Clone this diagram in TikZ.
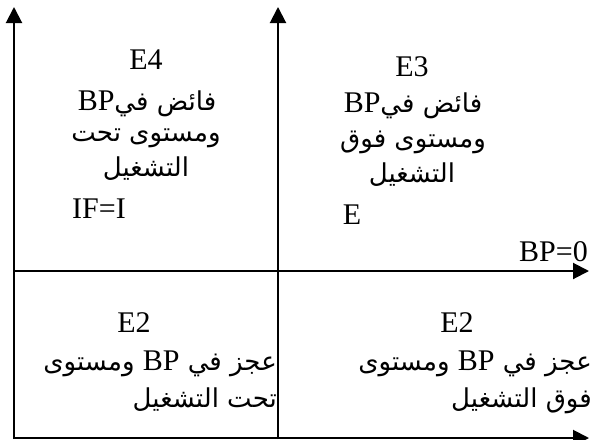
\documentclass[tikz,border=0pt]{standalone}
\usepackage{fontspec}
\setmainfont{Liberation Serif}
\newfontfamily\arabicfont[Script=Arabic]{DejaVu Sans}
\TeXXeTstate=1
\usetikzlibrary{arrows.meta}
\newcommand\latn[1]{{\fontsize{30}{36}\selectfont\rmfamily #1}}
\begin{document}
\begin{tikzpicture}[x=1pt,y=-1pt,
  axis/.style={line width=2pt,-{Triangle[length=16pt,width=16pt]}},
  lat/.style={font=\fontsize{30}{36}\selectfont, inner sep=0pt, anchor=base},
  ar/.style={font=\fontsize{26}{30}\selectfont\arabicfont, inner sep=0pt, anchor=base},
  arr/.style={ar, anchor=base east}]
\useasboundingbox (0,0) rectangle (593,439);
% axes
\coordinate (L0) at (14,439);
\coordinate (L1) at (14,7);
\coordinate (M0) at (278,439);
\coordinate (M1) at (278,7);
\coordinate (H0) at (14,271);
\coordinate (H1) at (589,271);
\coordinate (B0) at (13,438);
\coordinate (B1) at (589,438);
\draw[axis] (L0) -- (L1);
\draw[axis] (M0) -- (M1);
\draw[axis] (H0) -- (H1);
\draw[axis] (B0) -- (B1);
% top-left quadrant
\node[lat] (e4) at (146,69) {E4};
\node[ar] (q4a) at (147,110) {\beginR فائض في\beginL\latn{BP}\endL\endR};
\node[ar] (q4b) at (146,141) {\beginR ومستوى تحت\endR};
\node[ar] (q4c) at (146,176) {\beginR التشغيل\endR};
\node[lat] (ifi) at (99,218) {IF=I};
% top-right quadrant
\node[lat] (e3) at (412,76) {E3};
\node[ar] (q3a) at (413,112) {\beginR فائض في\beginL\latn{BP}\endL\endR};
\node[ar] (q3b) at (413,147) {\beginR ومستوى فوق\endR};
\node[ar] (q3c) at (412,182) {\beginR التشغيل\endR};
\node[lat] (e) at (352,224) {E};
\node[lat, anchor=base east] (bp0) at (588,261) {BP=0};
% bottom-left quadrant
\node[lat] (e2l) at (134,332) {E2};
\node[arr] (q2a) at (277,370) {\beginR عجز في \beginL\latn{BP}\endL{} ومستوى\endR};
\node[arr] (q2b) at (277,407) {\beginR تحت التشغيل\endR};
% bottom-right quadrant
\node[lat] (e2r) at (457,332) {E2};
\node[arr] (q1a) at (592,370) {\beginR عجز في \beginL\latn{BP}\endL{} ومستوى\endR};
\node[arr] (q1b) at (592,407) {\beginR فوق التشغيل\endR};
\end{tikzpicture}
\end{document}
